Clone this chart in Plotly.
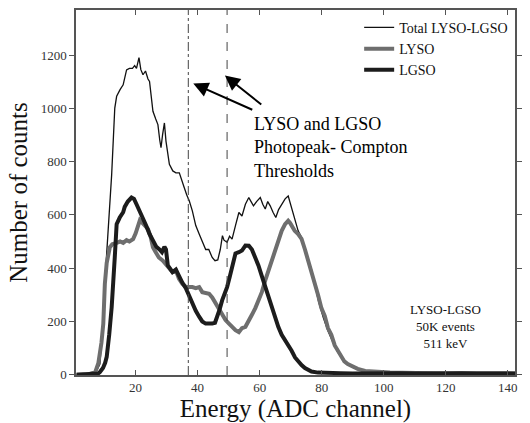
import plotly.graph_objects as go

# ---- data ----
x_total = [1, 4, 7, 8.5, 9.5, 10.5, 11.5, 12.3, 13.3, 13.9,
           15, 16, 17.1, 18, 19, 19.7, 20.3, 21.1, 21.7, 22.4,
           23.2, 24, 24.5, 25.6, 26.5, 27.2, 27.8, 28.2, 28.7, 29.3,
           29.8, 30.9, 32, 33, 34.1, 35, 35.7, 36.5, 37.3, 38.3,
           39.4, 40.5, 41.5, 42.6, 43.6, 44.7, 45.6, 46.5, 47.3, 48,
           48.5, 49.5, 50.3, 51.1, 52.2, 53.3, 54.3, 55.4, 56.5, 57.3,
           58, 59, 60.2, 61, 61.8, 62.6, 63.4, 64.3, 65.2, 66.1,
           67.1, 68.2, 69.2, 70, 70.8, 71.6, 72.4, 73.5, 74.6, 75.6,
           76.7, 77.8, 79, 80.5, 82, 83.5, 85, 86.5, 88, 90,
           92, 95, 98, 102, 106, 110, 115, 120, 125, 130,
           135, 140, 142.5]
y_total = [0, 2, 5, 40, 200, 420, 615, 752, 1001, 1045,
           1070, 1088, 1144, 1150, 1150, 1160, 1150, 1190, 1145, 1126,
           1140, 1110, 1101, 989, 960, 939, 880, 852, 900, 945,
           877, 790, 765, 758, 758, 730, 702, 675, 653, 615,
           560, 528, 500, 470, 470, 440, 428, 431, 470, 522,
           505, 497, 520, 509, 560, 609, 596, 640, 665, 650,
           634, 650, 665, 640, 622, 650, 634, 610, 590, 620,
           640, 660, 671, 640, 609, 580, 540, 515, 470, 430,
           395, 340, 275, 215, 165, 125, 88, 62, 44, 28,
           18, 12, 9, 7, 6, 5, 6, 5, 6, 5,
           6, 5, 5]

x_lyso = [1, 5, 7, 8, 9, 9.6, 10.1, 10.7, 11.7, 12.5,
          13.9, 15, 16, 17.1, 18, 19.2, 20, 20.8, 21.4, 22.2,
          23.4, 24, 24.8, 25.6, 26.5, 27.5, 28.8, 30, 31, 31.9,
          33, 34, 35.1, 36.2, 37.3, 38.3, 39.4, 40.5, 41.5, 42.6,
          43.7, 44.7, 45.8, 46.8, 47.9, 49, 50.1, 51.1, 52.2, 53.3,
          54.3, 55.4, 56.5, 57.5, 58.6, 59.6, 60.7, 61.8, 62.8, 63.9,
          65, 66, 67.1, 68.2, 69.2, 69.8, 70.5, 71.3, 72.4, 73.5,
          74.6, 75.6, 76.7, 77.8, 78.8, 79.9, 81, 82, 83.1, 84.2,
          85.7, 86.3, 87.3, 88.4, 90, 91.6, 94, 98, 102, 106,
          110, 115, 120, 125, 130, 135, 140, 142.5]
y_lyso = [0, 2, 10, 43, 120, 192, 341, 420, 478, 490,
          495, 500, 495, 505, 500, 509, 530, 560, 580, 570,
          553, 547, 520, 478, 460, 440, 428, 410, 395, 385,
          391, 360, 341, 330, 329, 329, 325, 329, 310, 305,
          304, 290, 270, 250, 225, 205, 192, 180, 167, 160,
          175, 180, 200, 225, 250, 279, 310, 354, 390, 428,
          470, 500, 540, 565, 578, 570, 555, 540, 528, 510,
          470, 430, 395, 340, 300, 250, 220, 175, 150, 110,
          80, 65, 50, 40, 30, 22, 14, 10, 8, 7,
          6, 6, 5, 6, 5, 6, 5, 5]

x_lgso = [1, 5, 8, 8.5, 9.5, 10.2, 10.7, 11.5, 12.3, 13.3,
          13.9, 14.9, 16, 16.5, 17.5, 18.7, 19.5, 20.3, 21.3, 22.4,
          23.4, 24.5, 25.6, 26.7, 27.7, 28.5, 29.3, 29.8, 30.4, 31.2,
          31.9, 33, 34.1, 35.1, 36.2, 37.3, 38.3, 39.4, 40.5, 41.5,
          42.6, 43.7, 44.7, 45.6, 46.3, 47.1, 47.9, 48.5, 49.5, 50.3,
          51.1, 52.2, 53.3, 54.3, 55.4, 56.5, 57.5, 58.6, 59.6, 60.7,
          61.8, 62.8, 63.9, 65, 66, 67.1, 68.2, 69.2, 70.3, 71.4,
          72.4, 73.5, 74.6, 75.6, 76.7, 78.8, 82, 86, 90, 95,
          100, 105, 110, 115, 120, 125, 130, 135, 140, 142.5]
y_lgso = [0, 2, 5, 10, 25, 45, 67, 150, 254, 441,
          565, 590, 610, 630, 650, 665, 660, 640, 615, 590,
          560, 528, 505, 480, 470, 460, 480, 470, 410, 395,
          385, 395, 366, 345, 325, 295, 267, 240, 218, 200,
          192, 190, 192, 195, 215, 245, 279, 295, 329, 365,
          403, 455, 460, 466, 485, 484, 470, 440, 410, 370,
          330, 290, 255, 210, 180, 150, 130, 110, 90, 65,
          50, 36, 25, 18, 12, 8, 6, 6, 5, 6,
          5, 6, 5, 6, 5, 6, 5, 6, 5, 5]

thresholds = [37, 49.5]
x_ticks = [20, 40, 60, 80, 100, 120, 140]
y_ticks = [0, 200, 400, 600, 800, 1000, 1200]

assert len(x_total) == len(y_total)
assert len(x_lyso) == len(y_lyso)
assert len(x_lgso) == len(y_lgso)

SERIF = "Liberation Serif"

fig = go.Figure()
fig.add_trace(go.Scatter(x=x_total, y=y_total, mode="lines", name="Total LYSO-LGSO",
                         line=dict(color="#111111", width=1.3)))
fig.add_trace(go.Scatter(x=x_lyso, y=y_lyso, mode="lines", name="LYSO",
                         line=dict(color="#6e6e6e", width=4)))
fig.add_trace(go.Scatter(x=x_lgso, y=y_lgso, mode="lines", name="LGSO",
                         line=dict(color="#1c1c1c", width=4)))

# threshold lines
fig.add_vline(x=thresholds[0], line=dict(color="#444444", width=1, dash="dashdot"))
fig.add_vline(x=thresholds[1], line=dict(color="#444444", width=1, dash="dash"))

# arrows
fig.add_annotation(x=38.6, y=1093, ax=58.1, ay=992, xref="x", yref="y", axref="x", ayref="y",
                   text="", showarrow=True, arrowhead=2, arrowsize=1.5, arrowwidth=2,
                   arrowcolor="#000000")
fig.add_annotation(x=48.8, y=1123, ax=61, ay=1010, xref="x", yref="y", axref="x", ayref="y",
                   text="", showarrow=True, arrowhead=2, arrowsize=1.5, arrowwidth=2,
                   arrowcolor="#000000")
fig.add_annotation(x=57.5, y=985, xref="x", yref="y", xanchor="left", yanchor="top",
                   text="LYSO and LGSO<br>Photopeak- Compton<br>Thresholds",
                   showarrow=False, align="left",
                   font=dict(family=SERIF, size=18, color="#000000"))
fig.add_annotation(x=120, y=182, xref="x", yref="y", xanchor="center", yanchor="middle",
                   text="LYSO-LGSO<br>50K events<br>511 keV", showarrow=False,
                   align="center", font=dict(family=SERIF, size=13, color="#111111"))

fig.update_layout(
    width=530, height=423,
    margin=dict(l=76, r=12, t=8, b=48),
    paper_bgcolor="white", plot_bgcolor="white",
    font=dict(family=SERIF, color="#222222"),
    showlegend=True,
    legend=dict(x=0.645, y=0.995, xanchor="left", yanchor="top",
                bgcolor="rgba(0,0,0,0)", font=dict(family=SERIF, size=14, color="#111111"),
                tracegroupgap=0, itemwidth=30),
)
fig.update_xaxes(range=[0.8, 142.3], tickvals=x_ticks, ticks="inside", ticklen=5,
                 tickcolor="#555555", showline=True, linecolor="#555555", linewidth=1.5,
                 mirror="ticks", showgrid=False, zeroline=False,
                 tickfont=dict(family=SERIF, size=13, color="#333333"),
                 title=dict(text="Energy (ADC channel)", standoff=2,
                            font=dict(family=SERIF, size=25, color="#111111")))
fig.update_yaxes(range=[-1, 1369], tickvals=y_ticks, ticks="outside", ticklen=5,
                 tickcolor="#555555", showline=True, linecolor="#555555", linewidth=1.5,
                 mirror="ticks", showgrid=False, zeroline=False,
                 tickfont=dict(family=SERIF, size=13, color="#333333"),
                 title=dict(text="Number of counts", standoff=6,
                            font=dict(family=SERIF, size=25, color="#111111")))

fig.write_html("out.html")
